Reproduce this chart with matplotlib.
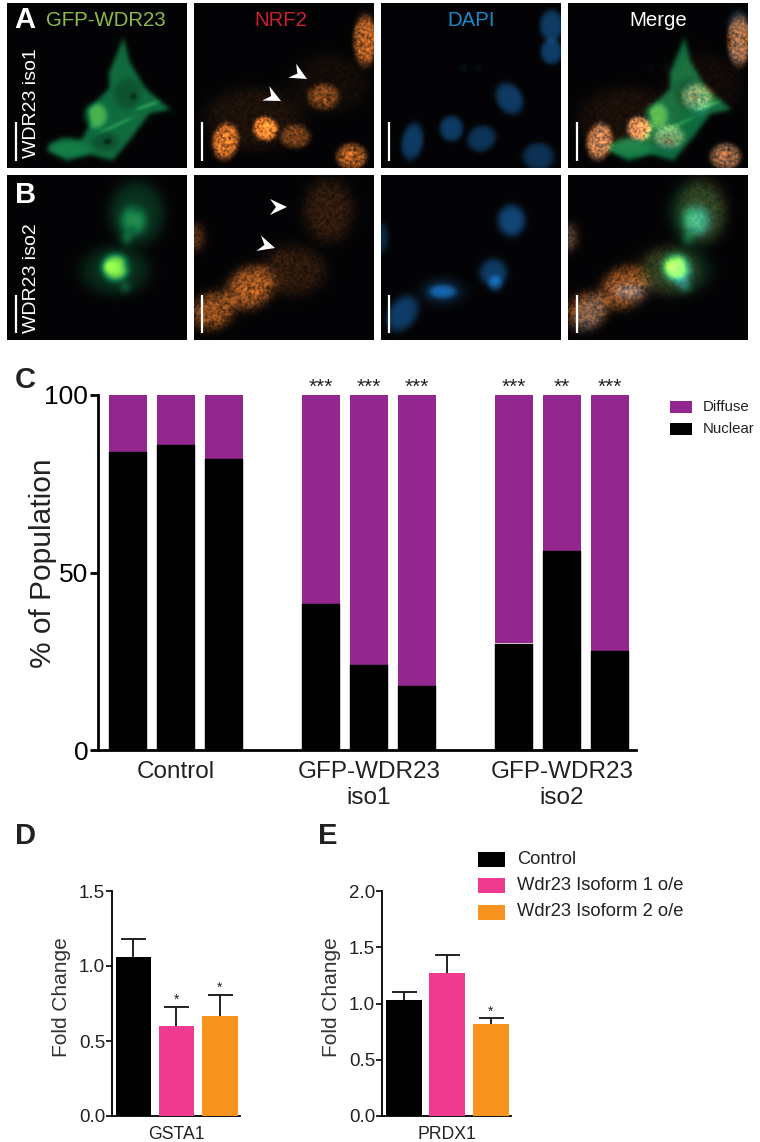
import numpy as np
import matplotlib
matplotlib.use("Agg")
import matplotlib.pyplot as plt
from matplotlib.patches import Polygon, Rectangle
from matplotlib.path import Path

plt.rcParams["font.family"] = ["Liberation Sans", "DejaVu Sans"]

W, H = 760, 1142

# panel C
group_labels = ["Control", "GFP-WDR23\niso1", "GFP-WDR23\niso2"]
nuclear = [84, 86, 82, 41, 24, 18, 30, 56, 28]
diffuse = [16, 14, 18, 59, 76, 82, 70, 44, 72]
stars_c = ["", "", "", "***", "***", "***", "***", "**", "***"]

# panels D and E
series_names = ["Control", "Wdr23 Isoform 1 o/e", "Wdr23 Isoform 2 o/e"]
series_colors = ["#000000", "#ee3a8f", "#f7931e"]
gsta1 = [1.06, 0.60, 0.67]
gsta1_err = [0.12, 0.13, 0.14]
gsta1_stars = ["", "*", "*"]
prdx1 = [1.03, 1.27, 0.82]
prdx1_err = [0.07, 0.16, 0.05]
prdx1_stars = ["", "", "*"]

# micrographs: blobs are (x, y, rx, ry, angle, brightness) in panel pixels
dapi_a = [(31, 138, 11, 19, 10, .6), (70, 125, 12, 13, 0, .6), (100, 135, 15, 13, -25, .52),
          (128, 95, 13, 17, -30, .6), (157, 153, 16, 14, 0, .5), (170, 22, 12, 16, 0, .6),
          (170, 48, 11, 13, 0, .62), (82, 65, 4, 4, 0, .1), (97, 64, 4, 4, 0, .08)]
nrf2_a = [(31, 138, 13, 18, 10, .8), (71, 125, 12, 12, 0, .95), (101, 133, 15, 12, 0, .42),
          (157, 153, 15, 13, 0, .65), (171, 37, 12, 25, 0, .7), (129, 93, 16, 13, 0, .42),
          (60, 115, 50, 32, 0, .1), (135, 80, 40, 30, 0, .06)]
dapi_b = [(130, 45, 14, 16, 0, .72), (112, 97, 14, 14, 0, .62), (114, 108, 7, 8, 0, .62),
          (61, 116, 14, 7, 0, .85), (61, 116, 24, 15, 0, .22), (21, 138, 14, 20, 35, .62),
          (0, 62, 7, 15, 0, .4)]
nrf2_b = [(19, 135, 22, 18, -30, .55), (56, 112, 25, 20, -30, .62), (99, 95, 32, 25, 0, .17),
          (134, 35, 25, 32, 0, .17), (2, 62, 7, 14, 0, .35)]
gfp_b = [(129, 38, 28, 33, 0, .26), (126, 45, 13, 15, 0, .5), (108, 95, 35, 25, 0, .22),
         (108, 92, 13, 13, 0, 1.15), (100, 91, 4, 5, 0, .4), (118, 90, 3, 3, 0, -.5),
         (118, 112, 5, 5, 0, .35), (119, 63, 5, 6, 0, .4), (128, 35, 3, 3, 0, -.3), (124, 54, 3, 3, 0, -.3)]
gfp_a_outline = [(116, 34), (122, 58), (138, 85), (163, 106), (142, 110), (125, 133), (105, 157),
                 (83, 151), (60, 157), (40, 147), (42, 140), (56, 134), (74, 136), (83, 120), (80, 106),
                 (101, 86), (102, 68)]
gfp_a_parts = [(120, 90, 14, 16, 0, -.14), (98, 138, 14, 10, 0, -.14), (126, 93, 3, 3, 0, -.25),
               (100, 138, 4, 3, 0, -.25), (88, 112, 12, 13, 0, .4), (140, 102, 14, 2, -20, .25),
               (108, 122, 22, 2, -25, .22), (62, 146, 22, 8, 0, .1)]

IMG_W, IMG_H = 180, 165
yy, xx = np.mgrid[0:IMG_H, 0:IMG_W]


def render(blobs):
    img = np.zeros((IMG_H, IMG_W))
    for x, y, rx, ry, angle, level in blobs:
        a = np.radians(angle)
        dx = (xx - x) * np.cos(a) + (yy - y) * np.sin(a)
        dy = -(xx - x) * np.sin(a) + (yy - y) * np.cos(a)
        img += level * np.exp(-((dx / rx) ** 2 + (dy / ry) ** 2) ** 3)
    return img


def blur(img, sigma):
    k = np.exp(-0.5 * (np.arange(-10, 11) / sigma) ** 2)
    k = k / k.sum()
    img = np.apply_along_axis(lambda r: np.convolve(r, k, mode="same"), 0, np.pad(img, 10, mode="edge"))
    img = np.apply_along_axis(lambda r: np.convolve(r, k, mode="same"), 1, img)
    return img[10:-10, 10:-10]


# grainy look of the stained cells
grain = np.sin(xx * 12.9898 + yy * 78.233) * 43758.5453
grain = blur(grain - np.floor(grain), 0.8)
grain = (grain - grain.min()) / (grain.max() - grain.min())


def tint(img, color):
    return np.dstack([img * c for c in color])


def green_rgb(img):
    return np.dstack([0.08 * img + 0.6 * np.clip(img - 0.65, 0, None), 0.7 * img,
                      0.38 * np.minimum(img, 0.75)])


pts = np.column_stack([xx.ravel(), yy.ravel()])
mask = Path(gfp_a_outline).contains_points(pts).reshape(IMG_H, IMG_W).astype(float)
gfp_a = blur(mask, 2.2) * 0.58 + blur(render(gfp_a_parts), 1.2)

orange = (0.95, 0.5, 0.17)
blue = (0.07, 0.36, 0.62)
base = np.array([0.015, 0.015, 0.02])

rows = [
    (gfp_a, render(nrf2_a), render(dapi_a)),
    (blur(render(gfp_b), 3), blur(render(nrf2_b), 3.5), blur(render(dapi_b), 2)),
]

fig = plt.figure(figsize=(W / 100, H / 100), dpi=100)


def px_axes(left, top, right, bottom):
    return fig.add_axes([left / W, 1 - bottom / H, (right - left) / W, (bottom - top) / H])


col_x = [7, 194, 381, 568]
row_y = [3, 175]
for r, (g, o, b) in enumerate(rows):
    o_rgb = tint(o * (0.3 + 1.4 * grain), orange)
    b_rgb = tint(b, blue)
    g_rgb = green_rgb(g)
    merged = g_rgb + o_rgb * 0.9 + b_rgb * 0.45
    for c, rgb in enumerate([g_rgb, o_rgb, b_rgb, merged]):
        ax = px_axes(col_x[c], row_y[r], col_x[c] + 180, row_y[r] + 165)
        ax.imshow(np.clip(rgb + base, 0, 1), interpolation="bilinear", aspect="auto")
        ax.axis("off")

# panel C
ax_c = px_axes(98, 395, 636, 750)
pos_c = [0, 1, 2, 4, 5, 6, 8, 9, 10]
ax_c.bar(pos_c, diffuse, width=0.79, bottom=nuclear, color="#93278f", label="Diffuse")
ax_c.bar(pos_c, nuclear, width=0.79, color="#000000", label="Nuclear", edgecolor="#000000", linewidth=0.3)
ax_c.set_xlim(-0.622, 10.54)
ax_c.set_ylim(0, 100)
ax_c.set_yticks([0, 50, 100])
ax_c.set_xticks([1, 5, 9])
ax_c.set_xticklabels(group_labels, fontsize=17.5, linespacing=1.2, color="#222222")
ax_c.tick_params(axis="x", length=0, pad=8)
ax_c.tick_params(axis="y", length=6, width=2, labelsize=19, pad=1)
ax_c.set_ylabel("% of Population", fontsize=21.5, color="#222222")
ax_c.yaxis.set_label_coords(-41 / 538, 0.527)
for i, s in zip(pos_c, stars_c):
    ax_c.text(i, 99.6, s, ha="center", va="bottom", fontsize=15, clip_on=False, color="#222222")

# panels D and E
pos_bar = [0, 1, 2.01]
bar_axes = []
for left, right, vals, errs, stars, name, top, ticks in [
    (112, 240, gsta1, gsta1_err, gsta1_stars, "GSTA1", 1.5, [0, 0.5, 1.0, 1.5]),
    (382, 511, prdx1, prdx1_err, prdx1_stars, "PRDX1", 2.0, [0, 0.5, 1.0, 1.5, 2.0]),
]:
    ax = px_axes(left, 891, right, 1116)
    ax.bar(pos_bar, vals, width=0.83, color=series_colors, zorder=3)
    eb = ax.errorbar(pos_bar, vals, yerr=[[0] * 3, errs], fmt="none", ecolor="#111111",
                     elinewidth=1.3, capsize=9, capthick=1.3, zorder=2)
    eb[1][0].set_visible(False)
    ax.set_xlim(-0.5, 2.48)
    ax.set_ylim(0, top)
    ax.set_yticks(ticks)
    ax.set_yticklabels(["%.1f" % t for t in ticks])
    ax.set_xticks([1])
    ax.set_xticklabels([name], fontsize=12.7, color="#222222")
    ax.tick_params(axis="x", length=0, pad=7)
    ax.tick_params(axis="y", length=4, width=1.2, labelsize=13.5, pad=1, labelcolor="#222222")
    ax.set_ylabel("Fold Change", fontsize=15, color="#333333")
    ax.yaxis.set_label_coords(-41 / (right - left), 0.53)
    for i, v, e, s in zip(pos_bar, vals, errs, stars):
        ax.text(i, v + e - 0.005, s, ha="center", va="bottom", fontsize=10, color="#222222")
    bar_axes.append(ax)

for ax in [ax_c] + bar_axes:
    ax.spines["top"].set_visible(False)
    ax.spines["right"].set_visible(False)
for side in ["left", "bottom"]:
    ax_c.spines[side].set_linewidth(2)
    for ax in bar_axes:
        ax.spines[side].set_linewidth(1.3)

# overlay in pixel coordinates for labels, scale bars, arrowheads, legends
ov = fig.add_axes([0, 0, 1, 1], zorder=10)
ov.set_xlim(0, W)
ov.set_ylim(H, 0)
ov.axis("off")
ov.patch.set_alpha(0)

for x, label, color in [(106, "GFP-WDR23", "#8dbb4b"), (281, "NRF2", "#c8202f"),
                        (471, "DAPI", "#1c87c9"), (658, "Merge", "#ffffff")]:
    ov.text(x, 20, label, color=color, fontsize=14.7, ha="center", va="center")
ov.text(31, 103, "WDR23 iso1", color="white", fontsize=14, rotation=90, ha="center", va="center")
ov.text(31, 278, "WDR23 iso2", color="white", fontsize=14, rotation=90, ha="center", va="center")

for x, y, s, color in [(14, 20, "A", "white"), (15, 195, "B", "white"), (15, 380, "C", "#222222"),
                       (15, 836, "D", "#222222"), (318, 836, "E", "#222222")]:
    ov.text(x, y, s, color=color, fontsize=21, fontweight="bold", ha="left", va="center")

for x in [16, 202, 389, 577]:
    ov.plot([x, x], [122, 161], color="white", lw=1.6, solid_capstyle="butt")
    ov.plot([x, x], [295, 333], color="white", lw=1.6, solid_capstyle="butt")

for tip, back in [((307, 79), (291, 70)), ((281, 101), (265, 93)),
                  ((287, 207), (270, 207)), ((275, 248), (258, 243))]:
    d = np.array(tip, float) - np.array(back, float)
    d = d / np.hypot(*d)
    n = np.array([-d[1], d[0]])
    t = np.array(tip, float)
    ov.add_patch(Polygon([t, t - 17 * d + 8 * n, t - 11 * d, t - 17 * d - 8 * n],
                         closed=True, color="white", lw=0))

for y, label, color in [(407, "Diffuse", "#93278f"), (429, "Nuclear", "#000000")]:
    ov.add_patch(Rectangle((670, y - 6), 22, 12, color=color, lw=0))
    ov.text(703, y, label, fontsize=10.8, ha="left", va="center", color="#222222")

for y, label, color in zip([859, 885, 912], series_names, series_colors):
    ov.add_patch(Rectangle((478, y - 7.5), 27, 15, color=color, lw=0))
    ov.text(517, y, label, fontsize=13.2, ha="left", va="center", color="#222222")

fig.savefig("out.png", dpi=100)
